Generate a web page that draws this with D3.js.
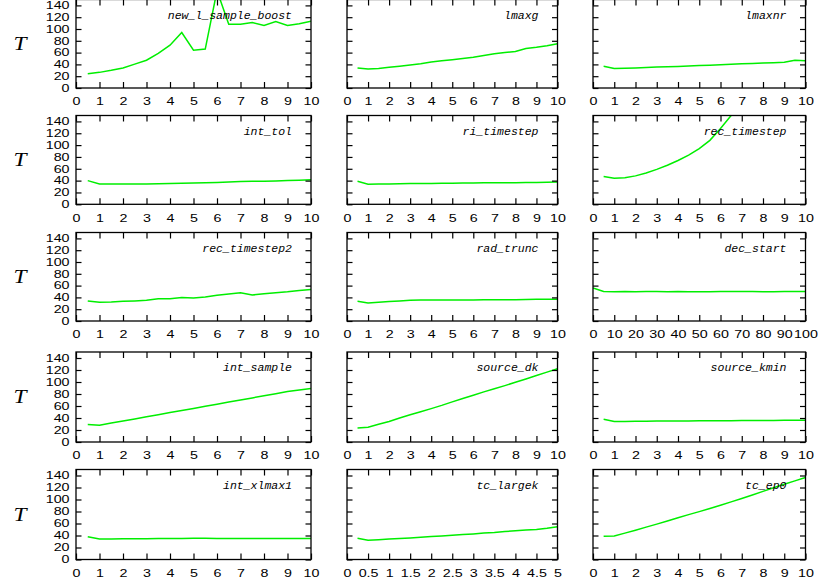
<!DOCTYPE html>
<html>
<head>
<meta charset="utf-8">
<script src="https://cdn.jsdelivr.net/npm/d3@7/dist/d3.min.js"></script>
<style>
  body { margin: 0; background: #fff; }
  svg { display: block; }
</style>
</head>
<body>
<svg id="chart" width="830" height="581"></svg>
<script>
// x grids used by the runs
const xHalf = [0.5, 1, 1.5, 2, 2.5, 3, 3.5, 4, 4.5, 5, 5.5, 6, 6.5, 7, 7.5, 8, 8.5, 9, 9.5, 10];
const xQuarter = [0.25, 0.5, 0.75, 1, 1.25, 1.5, 1.75, 2, 2.25, 2.5, 2.75, 3, 3.25, 3.5, 3.75, 4, 4.25, 4.5, 4.75, 5];
const xDec = [0, 5, 10, 15, 20, 25, 30, 35, 40, 45, 50, 55, 60, 65, 70, 75, 80, 85, 90, 95, 100];

// tick values
const ticks10 = [0, 1, 2, 3, 4, 5, 6, 7, 8, 9, 10];
const ticks5 = [0, 0.5, 1, 1.5, 2, 2.5, 3, 3.5, 4, 4.5, 5];
const ticks100 = [0, 10, 20, 30, 40, 50, 60, 70, 80, 90, 100];
const yTicks = [0, 20, 40, 60, 80, 100, 120, 140];

// T per parameter
const new_l_sample_boost = [24, 26.5, 30, 34, 40.5, 47, 58.5, 72.5, 94, 64, 66, 165, 108, 108, 111, 106, 112.5, 106, 109, 113];
const lmaxg = [34, 32, 33, 35, 37, 39, 41, 44, 46, 48, 50, 52, 55, 58, 60, 62, 67, 69, 71.5, 75];
const lmaxnr = [37, 33, 33.5, 34, 34.7, 35.4, 36, 36.5, 37.2, 38, 38.7, 39.5, 40.2, 41, 41.7, 42.5, 43, 43.8, 47, 46];
const int_tol = [40, 34.2, 34.2, 34.2, 34.4, 34.5, 34.7, 35, 35.5, 36, 36.5, 37, 37.7, 38.5, 38.8, 39, 39.5, 40, 40.8, 41.5];
const ri_timestep = [39, 34, 34.2, 34.5, 34.7, 35, 35, 35.2, 35.5, 35.5, 35.8, 36, 36.2, 36.4, 36.5, 36.6, 36.8, 37, 37.2, 37.5];
const rec_timestep = [47, 44, 45, 48, 53, 59, 66, 74, 83, 94, 108, 128, 150, 172, 196, 222, 250, 280, 312, 346];
const rec_timestep2 = [34, 31.8, 32.3, 33.4, 34, 35, 37.9, 37.9, 40, 39, 40.7, 43.5, 45.7, 48, 44, 46.2, 48, 49.6, 51.8, 53.5];
const rad_trunc = [33.4, 30.6, 31.8, 32.9, 34, 35, 35.4, 35.7, 35.7, 35.7, 35.7, 35.7, 36, 36.2, 36.2, 36.2, 36.5, 36.8, 36.8, 36.8];
const dec_start = [56, 50, 49.5, 49.8, 49.5, 50, 49.8, 49.6, 49.8, 49.5, 49.7, 49.6, 49.8, 50, 50, 49.8, 49.5, 49.6, 49.8, 50, 50];
const int_sample = [29, 28, 31.5, 35, 38.5, 42, 45.5, 49, 52.5, 56, 59.5, 63, 66.5, 70, 73.5, 77, 80.5, 84, 86.5, 89];
const source_dk = [23.5, 24.5, 29.5, 34.3, 40, 45.5, 50.5, 55.6, 61, 66.9, 72.5, 78, 83.5, 88.8, 94, 99.5, 105, 110.7, 116.5, 122];
const source_kmin = [38, 34, 34.2, 34.4, 34.6, 34.8, 35, 35.1, 35.2, 35.3, 35.4, 35.5, 35.6, 35.7, 35.8, 35.9, 36, 36.1, 36.2, 36.3];
const int_xlmax1 = [38, 34, 34.2, 34.4, 34.5, 34.6, 34.8, 35, 35.2, 35.3, 35.3, 35.2, 35.1, 35, 35, 35, 35, 35, 35, 35];
const tc_largek = [35.4, 32, 33, 34.3, 35, 36, 37, 38.2, 39.3, 40.5, 41.5, 42.7, 44, 45, 46.5, 47.8, 49, 50, 52, 54.5];
const tc_ep0 = [38.8, 39.3, 44, 48.9, 54, 59, 64.3, 69.7, 74.8, 79.8, 85, 90.5, 96, 101.7, 107.5, 113.5, 119.5, 125.3, 131, 136.6];

// panels, row by row
const panelNames = ["new_l_sample_boost", "lmaxg", "lmaxnr", "int_tol", "ri_timestep", "rec_timestep",
  "rec_timestep2", "rad_trunc", "dec_start", "int_sample", "source_dk", "source_kmin",
  "int_xlmax1", "tc_largek", "tc_ep0"];
const panelY = [new_l_sample_boost, lmaxg, lmaxnr, int_tol, ri_timestep, rec_timestep,
  rec_timestep2, rad_trunc, dec_start, int_sample, source_dk, source_kmin,
  int_xlmax1, tc_largek, tc_ep0];
const panelX = [xHalf, xHalf, xHalf, xHalf, xHalf, xHalf, xHalf, xHalf, xDec,
  xHalf, xHalf, xHalf, xHalf, xQuarter, xHalf];
const panelXTicks = [ticks10, ticks10, ticks10, ticks10, ticks10, ticks10, ticks10, ticks10, ticks100,
  ticks10, ticks10, ticks10, ticks10, ticks5, ticks10];
const yMax = 150;

// layout (pixels)
const colLeft = [76, 347, 593];
const colRight = [311, 557.5, 805.5];
const rowTop = [-0.5, 115.5, 232.5, 352, 469.5];
const rowBottom = [88, 204.3, 321, 442, 559.5];

const svg = d3.select("#chart");
const green = "#00ee00";
const stretch = 1.36;   // the tick font is wide and short

panelNames.forEach((name, i) => {
    const r = Math.floor(i / 3), c = i % 3;
    const L = colLeft[c], R = colRight[c], T = rowTop[r], B = rowBottom[r];
    const xt = panelXTicks[i];

    const x = d3.scaleLinear().domain([0, xt[xt.length - 1]]).range([L, R]);
    const y = d3.scaleLinear().domain([0, yMax]).range([B, T]);

    const g = svg.append("g");

    // clip for the curve
    g.append("clipPath").attr("id", "clip" + i)
        .append("rect")
        .attr("x", L).attr("y", T)
        .attr("width", R - L).attr("height", B - T);

    const line = d3.line()
        .x((d, k) => x(panelX[i][k]))
        .y(d => y(d));

    g.append("path")
        .datum(panelY[i])
        .attr("clip-path", `url(#clip${i})`)
        .attr("fill", "none")
        .attr("stroke", green)
        .attr("stroke-width", 1.5)
        .attr("d", line);

    // axes with inward ticks on all sides
    const fmt = d3.format("~g");
    g.append("g")
        .attr("transform", `translate(0,${B})`)
        .call(d3.axisBottom(x).tickValues(xt).tickSizeInner(-6).tickSizeOuter(0)
            .tickPadding(10).tickFormat(fmt));
    g.append("g")
        .attr("transform", `translate(0,${T})`)
        .call(d3.axisTop(x).tickValues(xt).tickSizeInner(-6).tickSizeOuter(0).tickFormat(""));
    g.append("g")
        .attr("class", "yl")
        .attr("transform", `translate(${L},0)`)
        .call(d3.axisLeft(y).tickValues(yTicks).tickSizeInner(-5.5).tickSizeOuter(0)
            .tickPadding(6.5).tickFormat(c === 0 ? fmt : ""));
    g.append("g")
        .attr("transform", `translate(${R},0)`)
        .call(d3.axisRight(y).tickValues(yTicks).tickSizeInner(-5.5).tickSizeOuter(0).tickFormat(""));

    g.selectAll(".domain").remove();
    g.selectAll(".tick line").attr("stroke", "#000").attr("stroke-width", 1.2);
    g.selectAll(".tick text")
        .attr("fill", "#000")
        .attr("transform", `scale(${stretch},1)`)
        .style("font-family", "'Liberation Sans', Arial, sans-serif")
        .style("font-size", "10.5px");
    g.selectAll(".yl .tick text").attr("x", -6.5 / stretch);

    // frame
    g.append("rect")
        .attr("x", L).attr("y", T)
        .attr("width", R - L).attr("height", B - T)
        .attr("fill", "none")
        .attr("stroke", "#000")
        .attr("stroke-width", 1.3);

    // parameter name, top right
    g.append("text")
        .attr("x", R - 19)
        .attr("y", T + 19)
        .attr("text-anchor", "end")
        .style("font-family", "'Liberation Mono', 'Courier New', monospace")
        .style("font-style", "italic")
        .style("font-size", "11.5px")
        .text(name);

    // y label
    if (c === 0) {
        svg.append("text")
            .attr("transform", `translate(20,${(T + B) / 2}) scale(1.3,1)`)
            .attr("text-anchor", "middle")
            .attr("dominant-baseline", "central")
            .style("font-family", "'Liberation Serif', 'Times New Roman', serif")
            .style("font-style", "italic")
            .style("font-size", "18px")
            .text("T");
    }
});
</script>
</body>
</html>
